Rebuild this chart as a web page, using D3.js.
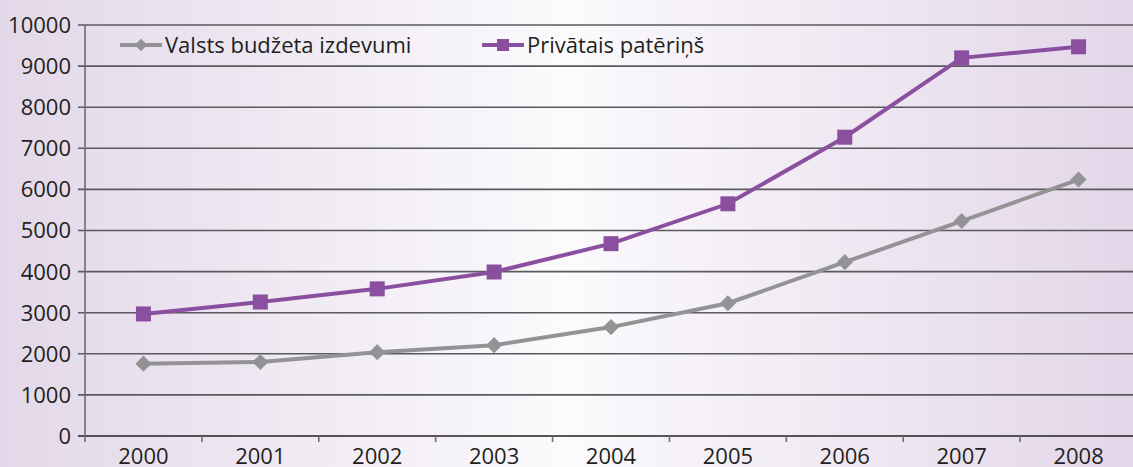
<!DOCTYPE html>
<html>
<head>
<meta charset="utf-8">
<script src="https://cdn.jsdelivr.net/npm/d3@7"></script>
<style>
  html, body { margin: 0; padding: 0; }
  body { width: 1133px; height: 467px; overflow: hidden; }
  text { font-family: "Open Sans", "Noto Sans", sans-serif; fill: #231f20; }
</style>
</head>
<body>
<div id="chart"></div>
<script>
// Data
const years = ['2000', '2001', '2002', '2003', '2004', '2005', '2006', '2007', '2008'];
const budget = [1760, 1800, 2040, 2210, 2650, 3230, 4230, 5230, 6240];
const privateCons = [2970, 3260, 3580, 3990, 4680, 5650, 7270, 9200, 9470];
const yTicks = [0, 1000, 2000, 3000, 4000, 5000, 6000, 7000, 8000, 9000, 10000];
const seriesNames = ['Valsts budžeta izdevumi', 'Privātais patēriņš'];

const width = 1133, height = 467;
const margin = {top: 25, right: -4, bottom: 31, left: 85};

const svg = d3.select('#chart')
    .append('svg')
    .attr('width', width)
    .attr('height', height);

// Background gradient (purple edges, pale middle)
const defs = svg.append('defs');
const grad = defs.append('linearGradient')
    .attr('id', 'bg')
    .attr('x1', '0%').attr('x2', '100%')
    .attr('y1', '0%').attr('y2', '0%');
grad.append('stop').attr('offset', '0%').attr('stop-color', '#e3d8e9');
grad.append('stop').attr('offset', '50%').attr('stop-color', '#fbfafc');
grad.append('stop').attr('offset', '100%').attr('stop-color', '#e3d6e9');

svg.append('rect')
    .attr('width', width)
    .attr('height', height)
    .attr('fill', 'url(#bg)');

const xScale = d3.scaleBand()
    .domain(years)
    .range([margin.left, width - margin.right]);

const yScale = d3.scaleLinear()
    .domain([0, 10000])
    .range([height - margin.bottom, margin.top]);

// Gridlines
svg.append('g')
    .selectAll('line')
    .data(yTicks)
    .enter()
    .append('line')
    .attr('x1', margin.left - 7)
    .attr('x2', width)
    .attr('y1', d => yScale(d))
    .attr('y2', d => yScale(d))
    .attr('stroke', d => d === 0 ? '#231f20' : '#5a5a5e')
    .attr('stroke-width', 1.6);

// Y axis line
svg.append('line')
    .attr('x1', margin.left).attr('x2', margin.left)
    .attr('y1', yScale(10000)).attr('y2', yScale(0) + 6)
    .attr('stroke', '#6d6d70')
    .attr('stroke-width', 1.6);

// Y labels
svg.append('g')
    .selectAll('text')
    .data(yTicks)
    .enter()
    .append('text')
    .attr('x', margin.left - 14)
    .attr('y', d => yScale(d))
    .attr('dy', '0.36em')
    .attr('text-anchor', 'end')
    .style('font-size', '22px')
    .text(d => d);

// X ticks between categories
svg.append('g')
    .selectAll('line')
    .data(years.slice(1))
    .enter()
    .append('line')
    .attr('x1', d => xScale(d))
    .attr('x2', d => xScale(d))
    .attr('y1', yScale(0))
    .attr('y2', yScale(0) + 6)
    .attr('stroke', '#6d6d70')
    .attr('stroke-width', 1.6);

// X labels
svg.append('g')
    .selectAll('text')
    .data(years)
    .enter()
    .append('text')
    .attr('x', d => xScale(d) + xScale.bandwidth() / 2)
    .attr('y', height - 3)
    .attr('text-anchor', 'middle')
    .style('font-size', '22px')
    .text(d => d);

const cx = d => xScale(d) + xScale.bandwidth() / 2;

const line = d3.line()
    .x((d, i) => cx(years[i]))
    .y(d => yScale(d));

// Grey series
svg.append('path')
    .attr('d', line(budget))
    .attr('fill', 'none')
    .attr('stroke', '#939395')
    .attr('stroke-width', 4);

svg.append('g')
    .selectAll('path')
    .data(budget)
    .enter()
    .append('path')
    .attr('d', d3.symbol().type(d3.symbolSquare).size(130))
    .attr('transform', (d, i) => `translate(${cx(years[i])},${yScale(d)}) rotate(45)`)
    .attr('fill', '#939395');

// Purple series
svg.append('path')
    .attr('d', line(privateCons))
    .attr('fill', 'none')
    .attr('stroke', '#8b4fa0')
    .attr('stroke-width', 4);

svg.append('g')
    .selectAll('rect')
    .data(privateCons)
    .enter()
    .append('rect')
    .attr('x', (d, i) => cx(years[i]) - 7.5)
    .attr('y', d => yScale(d) - 7.5)
    .attr('width', 15)
    .attr('height', 15)
    .attr('fill', '#8b4fa0');

// Legend
const legend = [
    {name: seriesNames[0], color: '#939395', x: 120, shape: 'diamond'},
    {name: seriesNames[1], color: '#8b4fa0', x: 482, shape: 'square'}
];
const legendY = 45;
legend.forEach(l => {
    const g = svg.append('g');
    g.append('line')
        .attr('x1', l.x).attr('x2', l.x + 42)
        .attr('y1', legendY).attr('y2', legendY)
        .attr('stroke', l.color)
        .attr('stroke-width', 4);
    if (l.shape === 'diamond') {
        g.append('path')
            .attr('d', d3.symbol().type(d3.symbolSquare).size(80))
            .attr('transform', `translate(${l.x + 21},${legendY}) rotate(45)`)
            .attr('fill', l.color);
    } else {
        g.append('rect')
            .attr('x', l.x + 21 - 6).attr('y', legendY - 6)
            .attr('width', 12).attr('height', 12)
            .attr('fill', l.color);
    }
    g.append('text')
        .attr('x', l.x + 45)
        .attr('y', legendY)
        .attr('dy', '0.36em')
        .style('font-size', '22px')
        .text(l.name);
});
</script>
</body>
</html>
